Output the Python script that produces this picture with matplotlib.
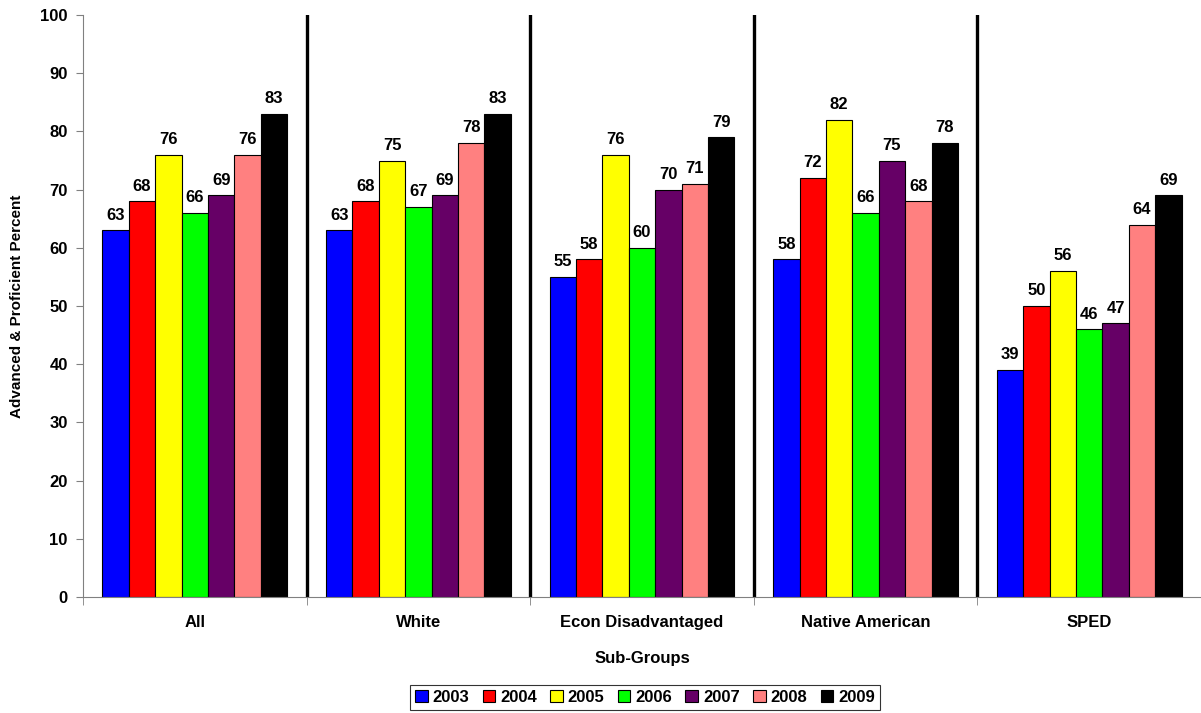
import numpy as np
import matplotlib
matplotlib.use("Agg")
import matplotlib.pyplot as plt
from matplotlib.patches import Patch

plt.rcParams['font.family'] = ['Liberation Sans', 'DejaVu Sans']
plt.rcParams['font.weight'] = 'bold'

groups = ["All", "White", "Econ Disadvantaged", "Native American", "SPED"]
years = ["2003", "2004", "2005", "2006", "2007", "2008", "2009"]
colors = ["#0000FF", "#FF0000", "#FFFF00", "#00FF00", "#660066", "#FF8080", "#000000"]

v2003 = [63, 63, 55, 58, 39]
v2004 = [68, 68, 58, 72, 50]
v2005 = [76, 75, 76, 82, 56]
v2006 = [66, 67, 60, 66, 46]
v2007 = [69, 69, 70, 75, 47]
v2008 = [76, 78, 71, 68, 64]
v2009 = [83, 83, 79, 78, 69]
series = [v2003, v2004, v2005, v2006, v2007, v2008, v2009]

fig = plt.figure(figsize=(12.01, 7.13), dpi=100)
ax = fig.add_axes([83/1201, 116/713, 1118/1201, 582/713])

x = np.arange(len(groups))
w = 0.118
for i, vals in enumerate(series):
    pos = x + (i - 3) * w
    ax.bar(pos, vals, width=w, color=colors[i], edgecolor="black", linewidth=0.8)
    for p, v in zip(pos, vals):
        ax.annotate(str(v), (p, v), xytext=(0, 5.5), textcoords="offset points",
                    ha="center", va="bottom", fontsize=12, fontweight="bold")

for b in np.arange(0.5, len(groups) - 0.5):
    ax.axvline(b, color="black", lw=2.4, zorder=0)

ax.set_xlim(-0.5, -0.5 + 1118/225)
ax.set_ylim(0, 100)
ax.set_yticks(np.arange(0, 101, 10))
ax.set_xticks(x)
ax.set_xticklabels(groups, fontsize=12, fontweight="bold")
ax.set_xticks(np.arange(-0.5, len(groups)), minor=True)
ax.tick_params(axis="x", which="major", length=0, pad=13)
ax.tick_params(axis="x", which="minor", length=6, color="#808080")
ax.tick_params(axis="y", length=5, color="#808080", labelsize=12, pad=6)
for lab in ax.get_yticklabels():
    lab.set_fontweight("bold")

for s in ["top", "right"]:
    ax.spines[s].set_visible(False)
for s in ["left", "bottom"]:
    ax.spines[s].set_color("#808080")

ax.set_ylabel("Advanced & Proficient Percent", fontsize=11, fontweight="bold", labelpad=12)
ax.set_xlabel("Sub-Groups", fontsize=12, fontweight="bold", labelpad=15)

handles = [Patch(facecolor=c, edgecolor="black", linewidth=0.8) for c in colors]
leg = fig.legend(handles, years, loc="center", bbox_to_anchor=(645/1201, 1 - 697/713),
                 ncol=7, frameon=True, fancybox=False, edgecolor="black",
                 handlelength=0.75, handleheight=0.75, handletextpad=0.3,
                 columnspacing=0.8, borderpad=0.3, prop={"size": 12, "weight": "bold"})
leg.get_frame().set_linewidth(0.8)

fig.savefig("out.png", dpi=100)
